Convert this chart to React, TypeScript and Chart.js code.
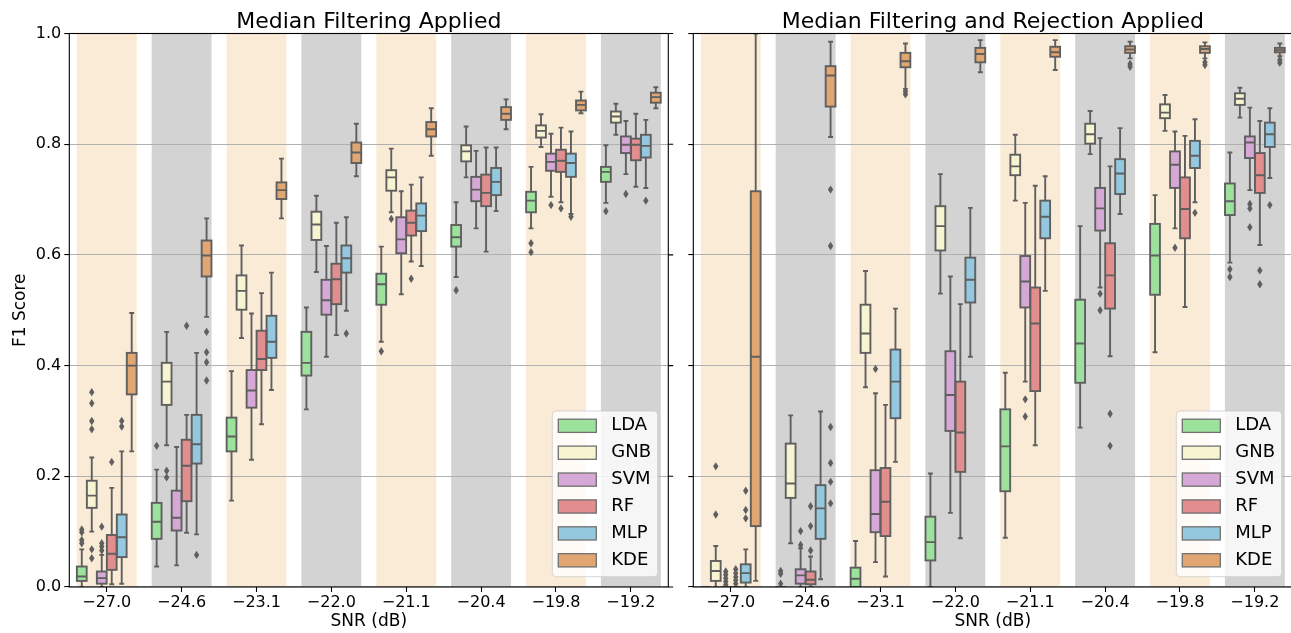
import { useEffect, useRef } from 'react';
import { Chart, registerables } from 'chart.js';

Chart.register(...registerables);

const FONT = '"DejaVu Sans", sans-serif';
const GRAY = '#5f5f5f';

const categories = ['\u221227.0', '\u221224.6', '\u221223.1', '\u221222.0', '\u221221.1', '\u221220.4', '\u221219.8', '\u221219.2'];
const models = ['LDA', 'GNB', 'SVM', 'RF', 'MLP', 'KDE'];
const modelColors = ['#9ce29c', '#f7f4d2', '#d5a8d5', '#e28e8e', '#93c8de', '#e2a673'];
const bandColors = ['#faebd7', '#d3d3d3'];
const yTickValues = [0, 0.2, 0.4, 0.6, 0.8, 1.0];

// each entry: [lower whisker, Q1, median, Q3, upper whisker]
const leftLDA = [[0.0, 0.011, 0.019, 0.037, 0.068], [0.037, 0.087, 0.118, 0.152, 0.212], [0.156, 0.245, 0.272, 0.306, 0.39], [0.321, 0.382, 0.405, 0.461, 0.505], [0.443, 0.51, 0.547, 0.566, 0.615], [0.56, 0.615, 0.632, 0.654, 0.695], [0.648, 0.677, 0.698, 0.714, 0.759], [0.694, 0.732, 0.75, 0.759, 0.798]];
const leftGNB = [[0.1, 0.143, 0.165, 0.192, 0.234], [0.256, 0.329, 0.371, 0.405, 0.461], [0.45, 0.501, 0.535, 0.563, 0.617], [0.569, 0.627, 0.655, 0.678, 0.707], [0.677, 0.716, 0.74, 0.753, 0.792], [0.74, 0.769, 0.787, 0.798, 0.832], [0.795, 0.812, 0.824, 0.834, 0.854], [0.817, 0.839, 0.85, 0.859, 0.873]];
const leftSVM = [[0.0, 0.006, 0.016, 0.028, 0.058], [0.039, 0.102, 0.125, 0.174, 0.253], [0.23, 0.324, 0.355, 0.392, 0.494], [0.416, 0.492, 0.518, 0.555, 0.616], [0.529, 0.603, 0.628, 0.668, 0.715], [0.648, 0.697, 0.718, 0.741, 0.788], [0.705, 0.752, 0.768, 0.783, 0.819], [0.746, 0.784, 0.799, 0.814, 0.842]];
const leftRF = [[0.005, 0.031, 0.06, 0.094, 0.179], [0.098, 0.155, 0.219, 0.266, 0.311], [0.294, 0.392, 0.412, 0.463, 0.531], [0.455, 0.511, 0.556, 0.584, 0.658], [0.588, 0.635, 0.658, 0.68, 0.727], [0.606, 0.688, 0.712, 0.745, 0.794], [0.695, 0.75, 0.77, 0.79, 0.83], [0.723, 0.771, 0.799, 0.81, 0.855]];
const leftMLP = [[0.006, 0.054, 0.09, 0.131, 0.245], [0.095, 0.223, 0.258, 0.311, 0.423], [0.356, 0.414, 0.443, 0.49, 0.568], [0.499, 0.568, 0.594, 0.617, 0.668], [0.58, 0.643, 0.671, 0.693, 0.74], [0.679, 0.708, 0.732, 0.757, 0.794], [0.674, 0.741, 0.766, 0.783, 0.823], [0.721, 0.776, 0.797, 0.817, 0.844]];
const leftKDE = [[0.245, 0.348, 0.4, 0.423, 0.495], [0.488, 0.561, 0.599, 0.626, 0.666], [0.666, 0.701, 0.717, 0.731, 0.774], [0.742, 0.766, 0.785, 0.803, 0.837], [0.779, 0.814, 0.827, 0.84, 0.865], [0.827, 0.844, 0.855, 0.867, 0.881], [0.856, 0.861, 0.871, 0.879, 0.895], [0.865, 0.875, 0.885, 0.893, 0.903]];

const leftLDAOut = [[0.104, 0.099, 0.085, 0.079], [0.255], [], [], [0.426], [0.536], [0.621, 0.605], [0.679]];
const leftGNBOut = [[0.352, 0.332, 0.3, 0.285, 0.068, 0.052], [0.21, 0.198], [], [], [0.665], [], [], []];
const leftSVMOut = [[0.109, 0.079, 0.073, 0.066], [], [], [], [], [], [0.69], [0.71]];
const leftRFOut = [[0.226], [0.472], [], [], [0.557], [], [0.684], []];
const leftMLPOut = [[0.3, 0.29], [0.058], [], [0.458], [], [], [0.669], [0.698]];
const leftKDEOut = [[], [0.461, 0.424, 0.406, 0.373], [], [], [], [], [], []];

const rightLDA = [[0, 0, 0, 0, 0], [0, 0, 0, 0, 0], [0, 0, 0.015, 0.035, 0.083], [0, 0.048, 0.081, 0.127, 0.205], [0.089, 0.173, 0.254, 0.321, 0.387], [0.288, 0.369, 0.44, 0.519, 0.652], [0.424, 0.528, 0.599, 0.656, 0.708], [0.586, 0.672, 0.697, 0.729, 0.785]];
const rightGNB = [[0, 0.011, 0.029, 0.047, 0.074], [0.079, 0.161, 0.187, 0.259, 0.31], [0.361, 0.423, 0.458, 0.51, 0.571], [0.53, 0.608, 0.652, 0.688, 0.746], [0.698, 0.744, 0.76, 0.781, 0.817], [0.782, 0.801, 0.818, 0.837, 0.86], [0.824, 0.847, 0.857, 0.872, 0.889], [0.848, 0.871, 0.882, 0.892, 0.902]];
const rightSVM = [[0, 0, 0, 0, 0], [0, 0.006, 0.021, 0.032, 0.07], [0.045, 0.099, 0.132, 0.211, 0.35], [0.134, 0.282, 0.347, 0.426, 0.561], [0.371, 0.505, 0.552, 0.598, 0.694], [0.541, 0.644, 0.684, 0.721, 0.811], [0.648, 0.721, 0.763, 0.787, 0.823], [0.717, 0.775, 0.803, 0.814, 0.866]];
const rightRF = [[0, 0, 0, 0, 0], [0, 0.005, 0.013, 0.028, 0.055], [0.019, 0.092, 0.154, 0.215, 0.329], [0.088, 0.208, 0.279, 0.371, 0.511], [0.256, 0.354, 0.476, 0.541, 0.725], [0.417, 0.503, 0.563, 0.621, 0.76], [0.506, 0.63, 0.683, 0.74, 0.815], [0.618, 0.712, 0.744, 0.784, 0.842]];
const rightMLP = [[0, 0.008, 0.025, 0.041, 0.068], [0.014, 0.087, 0.142, 0.184, 0.317], [0.226, 0.305, 0.371, 0.429, 0.503], [0.416, 0.514, 0.555, 0.595, 0.685], [0.535, 0.63, 0.669, 0.698, 0.742], [0.674, 0.71, 0.747, 0.773, 0.829], [0.695, 0.757, 0.779, 0.806, 0.845], [0.739, 0.795, 0.818, 0.839, 0.865]];
const rightKDE = [[0.011, 0.11, 0.416, 0.715, 1.0], [0.813, 0.868, 0.924, 0.941, 0.985], [0.9, 0.939, 0.95, 0.965, 0.982], [0.93, 0.948, 0.963, 0.974, 0.988], [0.934, 0.958, 0.966, 0.976, 0.988], [0.955, 0.965, 0.971, 0.977, 0.985], [0.955, 0.965, 0.972, 0.977, 0.984], [0.959, 0.966, 0.97, 0.974, 0.982]];

const rightLDAOut = [[], [0.029, 0.024, 0.006], [], [], [], [], [], [0.574, 0.56]];
const rightGNBOut = [[0.218, 0.131], [], [], [], [], [], [], []];
const rightSVMOut = [[0.028, 0.022, 0.016, 0.01, 0.004], [0.101, 0.076], [0.394], [], [0.339, 0.308], [0.53, 0.5], [0.613], [0.692, 0.684, 0.65]];
const rightRFOut = [[0.032, 0.025, 0.018, 0.012, 0.006], [0.146, 0.11, 0.066], [], [], [], [0.313, 0.255], [], [0.572, 0.547]];
const rightMLPOut = [[0.174, 0.139, 0.124], [], [], [], [], [], [0.676], [0.69]];
const rightKDEOut = [[], [0.718, 0.616, 0.289, 0.224, 0.19, 0.151], [0.895, 0.89], [], [], [0.945, 0.94], [0.948, 0.943], [0.952, 0.947]];

const leftPanel = {
  title: 'Median Filtering Applied',
  stats: [leftLDA, leftGNB, leftSVM, leftRF, leftMLP, leftKDE],
  outliers: [leftLDAOut, leftGNBOut, leftSVMOut, leftRFOut, leftMLPOut, leftKDEOut],
  showYLabels: true,
  yWidth: 69.3,
  padRight: 12.7,
  rightTicks: true,
};
const rightPanel = {
  title: 'Median Filtering and Rejection Applied',
  stats: [rightLDA, rightGNB, rightSVM, rightRF, rightMLP, rightKDE],
  outliers: [rightLDAOut, rightGNBOut, rightSVMOut, rightRFOut, rightMLPOut, rightKDEOut],
  showYLabels: false,
  yWidth: 12.3,
  padRight: 7.7,
  rightTicks: false,
};

const boxPlotPlugin = {
  id: 'boxPlot',
  beforeDraw(chart: any) {
    const { ctx, chartArea: a, scales } = chart;
    const x = scales.x;
    const step = x.getPixelForValue(1) - x.getPixelForValue(0);
    ctx.save();
    categories.forEach((_, i) => {
      const cx = x.getPixelForValue(i);
      ctx.fillStyle = bandColors[i % 2];
      ctx.fillRect(cx - 0.4 * step, a.top, 0.8 * step, a.bottom - a.top);
    });
    ctx.restore();
  },
  afterDraw(chart: any) {
    const { ctx, chartArea: a, scales } = chart;
    const y = scales.y;
    const py = (v: number) => y.getPixelForValue(v);
    ctx.save();
    ctx.beginPath();
    ctx.rect(a.left, a.top, a.right - a.left, a.bottom - a.top);
    ctx.clip();
    ctx.strokeStyle = GRAY;
    ctx.fillStyle = GRAY;
    chart.data.datasets.forEach((ds: any, di: number) => {
      const meta = chart.getDatasetMeta(di);
      meta.data.forEach((el: any, j: number) => {
        const [lo, q1, med, q3, hi] = ds.stats[j];
        const cx = el.x;
        const w = el.width;
        ctx.lineWidth = 1.9;
        ctx.strokeRect(cx - w / 2, py(q3), w, py(q1) - py(q3));
        ctx.beginPath();
        ctx.moveTo(cx, py(q3));
        ctx.lineTo(cx, py(hi));
        ctx.moveTo(cx, py(q1));
        ctx.lineTo(cx, py(lo));
        ctx.moveTo(cx - w / 4, py(hi));
        ctx.lineTo(cx + w / 4, py(hi));
        ctx.moveTo(cx - w / 4, py(lo));
        ctx.lineTo(cx + w / 4, py(lo));
        ctx.moveTo(cx - w / 2, py(med));
        ctx.lineTo(cx + w / 2, py(med));
        ctx.stroke();
        ds.outliers[j].forEach((v: number) => {
          const oy = py(v);
          ctx.beginPath();
          ctx.moveTo(cx, oy - 4.2);
          ctx.lineTo(cx + 2.7, oy);
          ctx.lineTo(cx, oy + 4.2);
          ctx.lineTo(cx - 2.7, oy);
          ctx.closePath();
          ctx.fill();
        });
      });
    });
    ctx.restore();

    // spines
    ctx.save();
    ctx.strokeStyle = '#000';
    ctx.lineWidth = 1.1;
    ctx.strokeRect(a.left, a.top, a.right - a.left, a.bottom - a.top);
    if (chart.options.plugins.boxPlot.rightTicks) {
      ctx.beginPath();
      yTickValues.forEach((t) => {
        ctx.moveTo(a.right, py(t));
        ctx.lineTo(a.right + 4.9, py(t));
      });
      ctx.stroke();
    }
    ctx.restore();

    // legend
    const fw = 105.5;
    const fh = 165.7;
    const fl = a.right - 10.5 - fw;
    const ft = a.bottom - 10.3 - fh;
    ctx.save();
    ctx.beginPath();
    ctx.roundRect(fl, ft, fw, fh, 4);
    ctx.fillStyle = 'rgba(255,255,255,0.8)';
    ctx.fill();
    ctx.strokeStyle = 'rgba(204,204,204,0.8)';
    ctx.lineWidth = 1;
    ctx.stroke();
    chart.data.datasets.forEach((ds: any, k: number) => {
      const cy = ft + 14.8 + k * 26.9;
      ctx.fillStyle = ds.backgroundColor;
      ctx.fillRect(fl + 6, cy - 6.6, 38, 13.2);
      ctx.strokeStyle = '#707070';
      ctx.lineWidth = 1.3;
      ctx.strokeRect(fl + 6, cy - 6.6, 38, 13.2);
      ctx.fillStyle = '#000';
      ctx.font = `18px ${FONT}`;
      ctx.textAlign = 'left';
      ctx.textBaseline = 'middle';
      ctx.fillText(ds.label, fl + 59, cy);
    });
    ctx.restore();
  },
};

function buildConfig(panel: any): any {
  return {
    type: 'bar',
    data: {
      labels: categories,
      datasets: models.map((m, k) => ({
        label: m,
        data: panel.stats[k].map((s: number[]) => [s[1], s[3]]),
        stats: panel.stats[k],
        outliers: panel.outliers[k],
        backgroundColor: modelColors[k],
        borderWidth: 0,
        borderSkipped: false,
        categoryPercentage: 0.8,
        barPercentage: 0.98,
      })),
    },
    options: {
      responsive: false,
      animation: false,
      devicePixelRatio: 1,
      events: [],
      layout: { padding: { left: 0, right: panel.padRight, top: 0, bottom: 0 } },
      plugins: {
        legend: { display: false },
        tooltip: { enabled: false },
        title: {
          display: true,
          text: panel.title,
          fullSize: false,
          color: '#000',
          font: { family: FONT, size: 22, weight: 'normal', lineHeight: 1.0 },
          padding: { top: 11, bottom: 0.5 },
        },
        boxPlot: { rightTicks: panel.rightTicks },
      },
      scales: {
        x: {
          type: 'category',
          offset: true,
          grid: { display: true, drawOnChartArea: false, offset: false, tickLength: 5, tickColor: '#000', tickWidth: 1.1 },
          border: { display: false },
          ticks: { color: '#000', font: { family: FONT, size: 16 }, padding: 1.5, maxRotation: 0, autoSkip: false },
          title: { display: true, text: 'SNR (dB)', color: '#000', font: { family: FONT, size: 17 }, padding: { top: 0, bottom: 1.5 } },
          afterFit: (s: any) => { s.height = 46; },
        },
        y: {
          min: 0,
          max: 1,
          z: 1,
          grid: { color: '#b0b0b0', lineWidth: 1.1, tickLength: 5, tickColor: '#000', tickWidth: 1.1 },
          border: { display: false },
          ticks: {
            stepSize: 0.2,
            display: panel.showYLabels,
            color: '#000',
            font: { family: FONT, size: 16 },
            padding: 3,
            callback: (v: any) => Number(v).toFixed(1),
          },
          title: { display: panel.showYLabels, text: 'F1 Score', color: '#000', font: { family: FONT, size: 17 }, padding: { top: 10, bottom: 0 } },
          afterFit: (s: any) => { s.width = panel.yWidth; },
        },
      },
    },
    plugins: [boxPlotPlugin],
  };
}

export default function App() {
  const leftRef = useRef<HTMLCanvasElement>(null);
  const rightRef = useRef<HTMLCanvasElement>(null);
  useEffect(() => {
    const c1 = new Chart(leftRef.current as HTMLCanvasElement, buildConfig(leftPanel));
    const c2 = new Chart(rightRef.current as HTMLCanvasElement, buildConfig(rightPanel));
    return () => {
      c1.destroy();
      c2.destroy();
    };
  }, []);
  return (
    <div style={{ position: 'absolute', left: 0, top: 0, width: 1291, height: 633, overflow: 'hidden', background: '#fff' }}>
      <canvas ref={leftRef} width={681} height={633} style={{ position: 'absolute', left: 0, top: 0, width: 681, height: 633 }} />
      <canvas ref={rightRef} width={619} height={633} style={{ position: 'absolute', left: 681, top: 0, width: 619, height: 633 }} />
    </div>
  );
}
